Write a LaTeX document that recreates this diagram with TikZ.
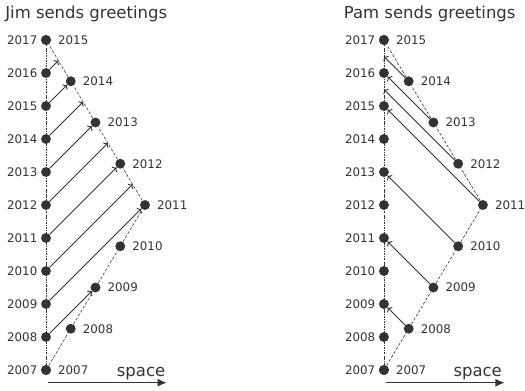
\documentclass[tikz,border=0pt]{standalone}
\usepackage{fontspec}
\setmainfont{DejaVu Sans}
\usetikzlibrary{arrows.meta}
\definecolor{ink}{RGB}{51,51,51}

\begin{document}
\begin{tikzpicture}[
  dot/.style={circle, fill=ink, inner sep=0pt, minimum size=0.3cm},
  yearl/.style={font=\fontsize{10.2}{12}\selectfont, text=ink, label distance=-0.5pt},
  yearr/.style={font=\fontsize{10.2}{12}\selectfont, text=ink, label distance=2.5pt},
  world/.style={ink, line width=0.5pt, dash pattern=on 2pt off 1pt on 0.5pt off 1pt},
  trip/.style={ink, line width=0.5pt, dash pattern=on 2.5pt off 1.5pt},
  signal/.style={ink, line width=0.8pt, -{To[length=3pt]}},
  spacearrow/.style={ink, line width=1.3pt, -{Latex[length=8pt,width=7pt]}},
  heading/.style={font=\fontsize{14.2}{17}\selectfont, text=ink, anchor=base west, inner sep=0pt}
]
  \useasboundingbox (-1.394,-0.636) rectangle (14.515,11.212);

  % Jim sends greetings
  \node[heading] (ltitle) at (-1.24,10.66) {Jim sends greetings};

  \node[dot, label={[yearl]left:2007}] (lj0) at (0,0) {};
  \node[dot, label={[yearl]left:2008}] (lj1) at (0,1) {};
  \node[dot, label={[yearl]left:2009}] (lj2) at (0,2) {};
  \node[dot, label={[yearl]left:2010}] (lj3) at (0,3) {};
  \node[dot, label={[yearl]left:2011}] (lj4) at (0,4) {};
  \node[dot, label={[yearl]left:2012}] (lj5) at (0,5) {};
  \node[dot, label={[yearl]left:2013}] (lj6) at (0,6) {};
  \node[dot, label={[yearl]left:2014}] (lj7) at (0,7) {};
  \node[dot, label={[yearl]left:2015}] (lj8) at (0,8) {};
  \node[dot, label={[yearl]left:2016}] (lj9) at (0,9) {};
  \node[dot, label={[yearl]left:2017}] (lj10) at (0,10) {};

  \node[dot, label={[yearr]right:2007}] (lp0) at (0,0) {};
  \node[dot, label={[yearr]right:2008}] (lp1) at (0.75,1.25) {};
  \node[dot, label={[yearr]right:2009}] (lp2) at (1.5,2.5) {};
  \node[dot, label={[yearr]right:2010}] (lp3) at (2.25,3.75) {};
  \node[dot, label={[yearr]right:2011}] (lp4) at (3,5) {};
  \node[dot, label={[yearr]right:2012}] (lp5) at (2.25,6.25) {};
  \node[dot, label={[yearr]right:2013}] (lp6) at (1.5,7.5) {};
  \node[dot, label={[yearr]right:2014}] (lp7) at (0.75,8.75) {};
  \node[dot, label={[yearr]right:2015}] (lp8) at (0,10) {};

  \coordinate (lh3) at (2.625,5.625);
  \coordinate (lh5) at (1.875,6.875);
  \coordinate (lh7) at (1.125,8.125);
  \coordinate (lh9) at (0.375,9.375);

  \draw[world] (lj0) -- (lj10);
  \draw[trip] (lp0) -- (lp1) -- (lp2) -- (lp3) -- (lp4) -- (lp5) -- (lp6) -- (lp7) -- (lp8);

  \draw[signal] (lj1) -- (lp2);
  \draw[signal] (lj2) -- (lp4);
  \draw[signal] (lj3) -- (lh3);
  \draw[signal] (lj4) -- (lp5);
  \draw[signal] (lj5) -- (lh5);
  \draw[signal] (lj6) -- (lp6);
  \draw[signal] (lj7) -- (lh7);
  \draw[signal] (lj8) -- (lp7);
  \draw[signal] (lj9) -- (lh9);

  \coordinate (ls0) at (0.05,-0.385);
  \coordinate (ls1) at (3.66,-0.385);
  \draw[spacearrow] (ls0) -- (ls1);
  \node[heading, anchor=base east] (lspace) at (3.62,-0.21) {space};

  % Pam sends greetings
  \begin{scope}[xshift=10.24cm]
  \node[heading] (rtitle) at (-1.22,10.66) {Pam sends greetings};

  \node[dot, label={[yearl]left:2007}] (rj0) at (0,0) {};
  \node[dot, label={[yearl]left:2008}] (rj1) at (0,1) {};
  \node[dot, label={[yearl]left:2009}] (rj2) at (0,2) {};
  \node[dot, label={[yearl]left:2010}] (rj3) at (0,3) {};
  \node[dot, label={[yearl]left:2011}] (rj4) at (0,4) {};
  \node[dot, label={[yearl]left:2012}] (rj5) at (0,5) {};
  \node[dot, label={[yearl]left:2013}] (rj6) at (0,6) {};
  \node[dot, label={[yearl]left:2014}] (rj7) at (0,7) {};
  \node[dot, label={[yearl]left:2015}] (rj8) at (0,8) {};
  \node[dot, label={[yearl]left:2016}] (rj9) at (0,9) {};
  \node[dot, label={[yearl]left:2017}] (rj10) at (0,10) {};

  \node[dot, label={[yearr]right:2007}] (rp0) at (0,0) {};
  \node[dot, label={[yearr]right:2008}] (rp1) at (0.75,1.25) {};
  \node[dot, label={[yearr]right:2009}] (rp2) at (1.5,2.5) {};
  \node[dot, label={[yearr]right:2010}] (rp3) at (2.25,3.75) {};
  \node[dot, label={[yearr]right:2011}] (rp4) at (3,5) {};
  \node[dot, label={[yearr]right:2012}] (rp5) at (2.25,6.25) {};
  \node[dot, label={[yearr]right:2013}] (rp6) at (1.5,7.5) {};
  \node[dot, label={[yearr]right:2014}] (rp7) at (0.75,8.75) {};
  \node[dot, label={[yearr]right:2015}] (rp8) at (0,10) {};

  \coordinate (rh85) at (0,8.5);
  \coordinate (rh95) at (0,9.5);

  \draw[world] (rj0) -- (rj10);
  \draw[trip] (rp0) -- (rp1) -- (rp2) -- (rp3) -- (rp4) -- (rp5) -- (rp6) -- (rp7) -- (rp8);

  \draw[signal] (rp1) -- (rj2);
  \draw[signal] (rp2) -- (rj4);
  \draw[signal] (rp3) -- (rj6);
  \draw[signal] (rp4) -- (rj8);
  \draw[signal] (rp5) -- (rh85);
  \draw[signal] (rp6) -- (rj9);
  \draw[signal] (rp7) -- (rh95);

  \coordinate (rs0) at (0.05,-0.385);
  \coordinate (rs1) at (3.66,-0.385);
  \draw[spacearrow] (rs0) -- (rs1);
  \node[heading, anchor=base east] (rspace) at (3.58,-0.21) {space};
  \end{scope}
\end{tikzpicture}
\end{document}
